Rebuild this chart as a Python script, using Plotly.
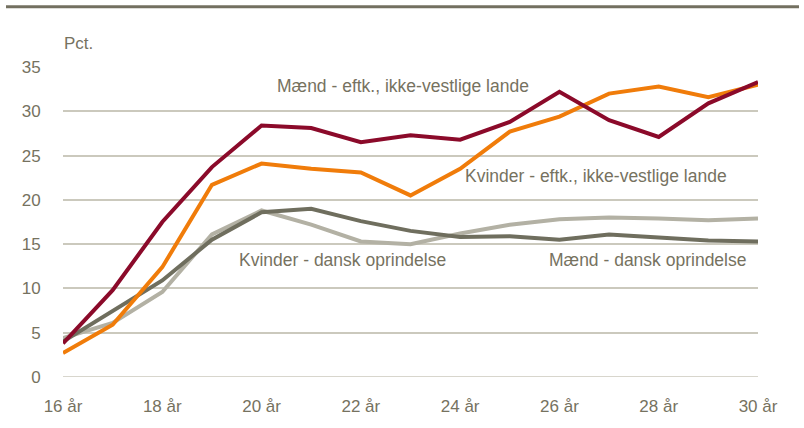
import plotly.graph_objects as go

ages = list(range(16, 31))
tick_labels = [f"{a} år" for a in range(16, 31, 2)]
tick_vals = list(range(16, 31, 2))

maend_ikke_vestlige = [3.8, 9.8, 17.5, 23.7, 28.4, 28.1, 26.5, 27.3, 26.8, 28.8, 32.2, 29.0, 27.1, 30.9, 33.3]
kvinder_ikke_vestlige = [2.7, 5.9, 12.4, 21.7, 24.1, 23.5, 23.1, 20.5, 23.5, 27.7, 29.4, 32.0, 32.8, 31.6, 33.0]
maend_dansk = [4.0, 7.4, 10.9, 15.5, 18.6, 19.0, 17.6, 16.5, 15.8, 15.9, 15.5, 16.1, 15.8, 15.4, 15.3]
kvinder_dansk = [4.4, 6.1, 9.6, 16.1, 18.8, 17.2, 15.3, 15.0, 16.2, 17.2, 17.8, 18.0, 17.9, 17.7, 17.9]

series = [
    ("Kvinder - dansk oprindelse", kvinder_dansk, "#B3B1A4"),
    ("Mænd - dansk oprindelse", maend_dansk, "#6F6E5E"),
    ("Kvinder - eftk., ikke-vestlige lande", kvinder_ikke_vestlige, "#F07C0A"),
    ("Mænd - eftk., ikke-vestlige lande", maend_ikke_vestlige, "#8B0A2A"),
]

FONT = "Liberation Sans, Arial, sans-serif"
TXT = "#76725F"

fig = go.Figure()
for name, vals, col in series:
    fig.add_trace(go.Scatter(x=ages, y=vals, mode="lines", name=name,
                             line=dict(color=col, width=4), hoverinfo="x+y"))

labels = [
    ("Mænd - eftk., ikke-vestlige lande", 20.27, 32.8),
    ("Kvinder - eftk., ikke-vestlige lande", 24.05, 22.7),
    ("Kvinder - dansk oprindelse", 19.5, 13.2),
    ("Mænd - dansk oprindelse", 25.75, 13.2),
]
for text, x, y in labels:
    fig.add_annotation(x=x, y=y, text=text, showarrow=False, xanchor="left",
                       yanchor="middle", font=dict(family=FONT, size=17.5, color=TXT))

fig.add_annotation(xref="paper", yref="paper", x=-0.002, y=1.076, text="Pct.", showarrow=False,
                   xanchor="left", yanchor="middle", font=dict(family=FONT, size=17, color=TXT))

fig.add_shape(type="line", xref="paper", yref="paper", x0=-0.082, x1=1.059, y0=1.194, y1=1.194,
              line=dict(color="#737060", width=3))

fig.update_layout(
    width=804, height=428,
    margin=dict(l=63, r=46, t=67, b=44),
    paper_bgcolor="white", plot_bgcolor="white",
    showlegend=False,
    font=dict(family=FONT, size=17, color=TXT),
    xaxis=dict(range=[16, 30], tickvals=tick_vals, ticktext=tick_labels, showgrid=False,
               zeroline=False, showline=False, ticks="outside", ticklen=14,
               tickcolor="rgba(0,0,0,0)", tickfont=dict(size=17, color=TXT)),
    yaxis=dict(range=[0, 35], dtick=5, showgrid=True, gridcolor="#CBC9BD", gridwidth=1.5,
               zeroline=False, showline=False, ticks="outside", ticklen=18, tickcolor="rgba(0,0,0,0)",
               tickfont=dict(size=17, color=TXT)),
)
fig.add_shape(type="line", xref="paper", yref="y", x0=0, x1=1, y0=0, y1=0,
              line=dict(color="#CBC9BD", width=1.5), layer="below")

fig.write_html("out.html", config={"displayModeBar": False},
               post_script="document.body.style.margin='0px';")
